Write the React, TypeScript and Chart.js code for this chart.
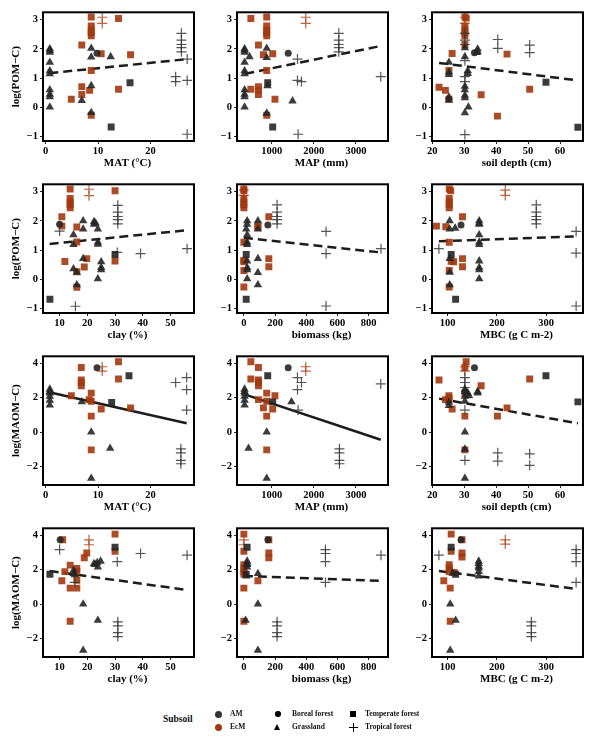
import React, { useEffect, useRef } from "react";
import { Chart, registerables } from "chart.js";

Chart.register(...registerables);

type Pt = [number, number, string];
// group codes: AG = AM grassland, AB = AM boreal forest, AT = AM temperate forest,
// AX = AM tropical forest, ET = EcM temperate forest, EX = EcM tropical forest

// ---------- tick labels ----------
const TICKS_MAT = [0, 10, 20];
const TICKS_MAP = [1000, 2000, 3000];
const TICKS_DEPTH = [20, 30, 40, 50, 60];
const TICKS_CLAY = [10, 20, 30, 40, 50];
const TICKS_BIOMASS = [0, 200, 400, 600, 800];
const TICKS_MBC = [100, 200, 300];
const TICKS_POM = [-1, 0, 1, 2, 3];
const TICKS_MAOM = [-2, 0, 2, 4];

// ---------- axis ranges ----------
const RANGE_MAT = [-0.5, 28.3];
const RANGE_MAP = [177, 3760];
const RANGE_DEPTH = [19.9, 67.2];
const RANGE_CLAY = [4.0, 58.5];
const RANGE_BIOMASS = [-44, 924];
const RANGE_MBC = [68, 375];
const RANGE_POM = [-1.15, 3.25];
const RANGE_MAOM = [-3.09, 4.42];

// ---------- data: log(POM-C) ----------
const matPom: Pt[] = [
  [0.8, 2.0, "AG"], [0.8, 1.95, "AG"], [0.8, 1.88, "AG"], [0.8, 1.54, "AG"], [0.8, 1.25, "AG"],
  [0.8, 1.15, "AG"], [0.8, 0.6, "AG"], [0.8, 0.45, "AG"], [0.8, 0.36, "AG"], [0.8, 0.01, "AG"],
  [6.9, 0.23, "AG"], [8.7, 2.02, "AG"], [8.7, 1.72, "AG"], [8.7, 0.74, "AG"], [8.7, -0.18, "AG"],
  [12.4, 1.73, "AG"],
  [9.8, 1.85, "AB"],
  [16.1, 0.84, "AT"], [12.5, -0.67, "AT"],
  [25.9, 2.53, "AX"], [25.9, 2.3, "AX"], [25.9, 2.15, "AX"], [25.9, 2.04, "AX"], [25.9, 1.9, "AX"],
  [27.0, 1.65, "AX"], [24.8, 1.05, "AX"], [24.8, 0.88, "AX"], [27.0, 0.92, "AX"], [27.0, -0.92, "AX"],
  [8.7, 3.09, "ET"], [8.7, 2.78, "ET"], [8.7, 2.65, "ET"], [8.7, 2.55, "ET"], [8.7, 2.45, "ET"],
  [6.9, 2.13, "ET"], [10.6, 1.83, "ET"], [16.2, 1.8, "ET"], [13.9, 3.04, "ET"], [8.7, 1.26, "ET"],
  [6.9, 0.71, "ET"], [6.9, 0.44, "ET"], [4.9, 0.28, "ET"], [8.4, 0.58, "ET"], [13.9, 0.62, "ET"],
  [8.7, -0.27, "ET"],
  [10.8, 3.08, "EX"], [10.8, 2.87, "EX"],
];
const trendMatPom = [[0.7, 1.17], [27.0, 1.65]];

const mapPom: Pt[] = [
  [357, 2.0, "AG"], [357, 1.95, "AG"], [357, 1.88, "AG"], [357, 1.54, "AG"], [357, 1.25, "AG"],
  [357, 1.15, "AG"], [357, 0.6, "AG"], [357, 0.45, "AG"], [357, 0.36, "AG"], [357, 0.01, "AG"],
  [474, 1.73, "AG"], [882, 2.02, "AG"], [882, 1.7, "AG"], [900, 0.74, "AG"], [882, -0.2, "AG"],
  [1494, 0.22, "AG"],
  [1392, 1.85, "AB"],
  [906, 0.84, "AT"], [1024, -0.67, "AT"],
  [2592, 2.53, "AX"], [2592, 2.3, "AX"], [2592, 2.15, "AX"], [2592, 2.04, "AX"], [2592, 1.9, "AX"],
  [1612, 1.65, "AX"], [1612, 0.92, "AX"], [1706, 0.88, "AX"], [3588, 1.05, "AX"], [1627, -0.92, "AX"],
  [506, 3.04, "ET"], [882, 3.09, "ET"], [882, 2.78, "ET"], [882, 2.65, "ET"], [882, 2.55, "ET"],
  [882, 2.45, "ET"], [686, 2.13, "ET"], [804, 1.8, "ET"], [1024, 1.83, "ET"], [882, 1.26, "ET"],
  [506, 0.62, "ET"], [686, 0.71, "ET"], [686, 0.44, "ET"], [686, 0.58, "ET"], [1078, 0.28, "ET"],
  [882, -0.27, "ET"],
  [1808, 3.08, "EX"], [1808, 2.87, "EX"],
];
const trendMapPom = [[373, 1.15], [3588, 2.1]];

const depthPom: Pt[] = [
  [25.2, 1.54, "AG"], [25.2, 1.2, "AG"], [25.2, 1.12, "AG"], [25.2, 0.35, "AG"], [25.2, 0.25, "AG"],
  [30.2, 2.04, "AG"], [30.2, 1.73, "AG"], [30.2, 0.72, "AG"], [30.2, 0.6, "AG"], [30.2, 0.41, "AG"],
  [30.2, 0.33, "AG"], [31.3, 0.01, "AG"], [30.2, -0.19, "AG"], [31.1, 1.25, "AG"], [31.1, 1.16, "AG"],
  [34.2, 1.99, "AG"], [34.2, 1.9, "AG"], [33.9, 1.87, "AG"],
  [33.2, 1.87, "AB"],
  [55.6, 0.86, "AT"], [65.6, -0.68, "AT"],
  [30.2, 2.53, "AX"], [30.2, 2.3, "AX"], [30.2, 2.15, "AX"], [40.5, 2.32, "AX"], [40.5, 2.02, "AX"],
  [50.5, 2.13, "AX"], [50.5, 1.87, "AX"], [30.2, 1.6, "AX"], [30.2, 1.05, "AX"], [30.2, 0.88, "AX"],
  [30.2, -0.93, "AX"],
  [30.2, 3.09, "ET"], [30.6, 3.05, "ET"], [30.2, 2.78, "ET"], [30.2, 2.65, "ET"], [30.2, 2.55, "ET"],
  [30.2, 2.45, "ET"], [30.2, 2.15, "ET"], [26.2, 1.84, "ET"], [43.4, 1.82, "ET"], [25.2, 1.26, "ET"],
  [22.1, 0.69, "ET"], [24.1, 0.58, "ET"], [25.2, 0.28, "ET"], [35.3, 0.43, "ET"], [50.5, 0.62, "ET"],
  [40.4, -0.3, "ET"],
  [30.2, 3.08, "EX"], [30.2, 2.87, "EX"],
];
const trendDepthPom = [[22.1, 1.52], [65.6, 0.92]];

const clayPom: Pt[] = [
  [18.5, 2.0, "AG"], [18.5, 1.72, "AG"], [22.4, 1.97, "AG"], [22.4, 1.88, "AG"], [23.0, 1.92, "AG"],
  [23.8, 1.72, "AG"], [23.8, 1.27, "AG"], [23.8, 1.2, "AG"], [15.0, 1.52, "AG"], [15.0, 1.19, "AG"],
  [15.0, 0.36, "AG"], [18.5, 0.71, "AG"], [16.2, 0.24, "AG"], [16.2, -0.19, "AG"], [23.8, 0.02, "AG"],
  [25.0, 0.6, "AG"], [25.0, 0.4, "AG"], [25.0, 0.33, "AG"],
  [10.0, 1.88, "AB"],
  [6.5, -0.68, "AT"], [30.0, 0.85, "AT"],
  [31.0, 2.53, "AX"], [31.0, 2.3, "AX"], [31.0, 2.15, "AX"], [31.0, 2.04, "AX"], [31.0, 1.9, "AX"],
  [10.0, 1.65, "AX"], [30.8, 0.92, "AX"], [39.2, 0.88, "AX"], [56.0, 1.05, "AX"], [15.7, -0.92, "AX"],
  [13.8, 3.09, "ET"], [13.8, 2.77, "ET"], [13.8, 2.65, "ET"], [13.8, 2.55, "ET"], [13.8, 2.45, "ET"],
  [10.8, 2.14, "ET"], [10.8, 1.82, "ET"], [16.2, 1.79, "ET"], [16.2, 1.28, "ET"], [11.9, 0.61, "ET"],
  [19.8, 0.71, "ET"], [18.9, 0.42, "ET"], [30.0, 3.03, "ET"], [30.0, 0.63, "ET"], [16.2, 0.26, "ET"],
  [16.2, -0.27, "ET"],
  [20.6, 3.08, "EX"], [20.6, 2.86, "EX"],
];
const trendClayPom = [[6.4, 1.21], [56.0, 1.68]];

const biomassPom: Pt[] = [
  [21, 2.0, "AG"], [21, 1.88, "AG"], [15, 1.72, "AG"], [21, 1.52, "AG"], [21, 1.27, "AG"],
  [21, 1.19, "AG"], [21, 0.63, "AG"], [21, 0.4, "AG"], [21, 0.33, "AG"], [21, 0.02, "AG"],
  [90, 2.0, "AG"], [90, 1.72, "AG"], [90, 0.71, "AG"], [90, 0.23, "AG"], [90, -0.19, "AG"],
  [154, 1.86, "AB"],
  [15, 0.85, "AT"], [15, -0.68, "AT"],
  [213, 2.55, "AX"], [213, 2.3, "AX"], [213, 2.15, "AX"], [213, 2.04, "AX"], [213, 1.9, "AX"],
  [527, 1.64, "AX"], [527, 0.88, "AX"], [879, 1.05, "AX"], [527, -0.91, "AX"],
  [0, 3.09, "ET"], [0, 3.03, "ET"], [0, 2.77, "ET"], [0, 2.65, "ET"], [0, 2.55, "ET"],
  [0, 2.45, "ET"], [0, 1.27, "ET"], [0, 0.65, "ET"], [0, 0.6, "ET"], [0, 0.3, "ET"],
  [0, -0.26, "ET"], [160, 2.14, "ET"], [90, 1.83, "ET"], [90, 1.78, "ET"], [160, 0.71, "ET"],
  [160, 0.43, "ET"],
  [0, 3.05, "EX"], [0, 2.87, "EX"],
];
const trendBiomassPom = [[0, 1.42], [880, 0.92]];

const mbcPom: Pt[] = [
  [104, 2.0, "AG"], [115, 1.75, "AG"], [104, 1.72, "AG"], [104, 0.71, "AG"], [104, 0.24, "AG"],
  [104, -0.19, "AG"], [164, 2.0, "AG"], [164, 1.92, "AG"], [164, 1.88, "AG"], [164, 1.52, "AG"],
  [164, 1.27, "AG"], [164, 1.19, "AG"], [164, 0.63, "AG"], [164, 0.4, "AG"], [164, 0.33, "AG"],
  [164, 0.02, "AG"],
  [127, 1.86, "AB"],
  [107, 0.85, "AT"], [116, -0.68, "AT"],
  [280, 2.55, "AX"], [280, 2.3, "AX"], [280, 2.15, "AX"], [280, 2.04, "AX"], [280, 1.9, "AX"],
  [361, 1.64, "AX"], [361, 0.9, "AX"], [82, 1.05, "AX"], [361, -0.91, "AX"],
  [103, 3.09, "ET"], [106, 3.03, "ET"], [103, 2.77, "ET"], [103, 2.65, "ET"], [103, 2.55, "ET"],
  [103, 2.45, "ET"], [130, 2.14, "ET"], [77, 1.82, "ET"], [96, 1.8, "ET"], [103, 1.27, "ET"],
  [130, 0.71, "ET"], [130, 0.43, "ET"], [107, 0.62, "ET"], [112, 0.6, "ET"], [103, 0.3, "ET"],
  [103, -0.26, "ET"],
  [217, 3.05, "EX"], [217, 2.87, "EX"],
];
const trendMbcPom = [[82, 1.3], [361, 1.47]];

// ---------- data: log(MAOM-C) ----------
const matMaom: Pt[] = [
  [0.8, 2.5, "AG"], [0.8, 2.37, "AG"], [0.8, 2.28, "AG"], [0.8, 2.08, "AG"], [0.8, 1.85, "AG"],
  [0.8, 1.57, "AG"], [6.9, 1.76, "AG"], [8.7, 0.0, "AG"], [12.3, -0.95, "AG"], [8.7, -2.7, "AG"],
  [9.8, 3.75, "AB"],
  [15.9, 3.29, "AT"], [12.6, 1.72, "AT"],
  [24.8, 2.89, "AX"], [26.9, 3.18, "AX"], [26.9, 2.47, "AX"], [26.9, 1.28, "AX"], [25.8, -0.98, "AX"],
  [25.8, -1.21, "AX"], [25.8, -1.65, "AX"], [25.8, -1.85, "AX"],
  [6.8, 3.77, "ET"], [6.8, 3.04, "ET"], [6.8, 2.89, "ET"], [6.8, 2.7, "ET"], [4.9, 2.12, "ET"],
  [8.7, 2.27, "ET"], [8.3, 1.89, "ET"], [8.7, 1.8, "ET"], [8.7, 0.93, "ET"], [8.7, -1.04, "ET"],
  [10.6, 1.35, "ET"], [13.9, 4.1, "ET"], [13.9, 3.1, "ET"], [16.2, 1.41, "ET"],
  [10.8, 3.81, "EX"], [10.8, 3.56, "EX"],
];
const trendMatMaom = [[0.9, 2.31], [26.9, 0.51]];

const mapMaom: Pt[] = [
  [357, 2.5, "AG"], [357, 2.37, "AG"], [357, 2.28, "AG"], [357, 2.08, "AG"], [357, 1.85, "AG"],
  [357, 1.57, "AG"], [451, -0.95, "AG"], [882, 0.0, "AG"], [882, -2.7, "AG"], [1470, 1.76, "AG"],
  [1392, 3.75, "AB"],
  [906, 3.29, "AT"], [1024, 1.76, "AT"],
  [1612, 3.18, "AX"], [1706, 2.89, "AX"], [1612, 2.47, "AX"], [1627, 1.28, "AX"], [2608, -0.98, "AX"],
  [2608, -1.21, "AX"], [2608, -1.65, "AX"], [2608, -1.85, "AX"], [3588, 2.81, "AX"],
  [506, 4.1, "ET"], [506, 3.1, "ET"], [686, 3.77, "ET"], [686, 3.04, "ET"], [686, 2.89, "ET"],
  [686, 2.7, "ET"], [686, 1.89, "ET"], [882, 2.27, "ET"], [882, 1.8, "ET"], [882, 0.93, "ET"],
  [882, -1.04, "ET"], [804, 1.41, "ET"], [1024, 1.35, "ET"], [1078, 2.12, "ET"],
  [1808, 3.81, "EX"], [1808, 3.56, "EX"],
];
const trendMapMaom = [[373, 2.18], [3588, -0.45]];

const depthMaom: Pt[] = [
  [25.2, 1.74, "AG"], [25.2, 1.55, "AG"], [30.2, 2.5, "AG"], [30.2, 2.37, "AG"], [30.2, 2.08, "AG"],
  [30.2, 1.8, "AG"], [30.2, 0.0, "AG"], [30.2, -1.0, "AG"], [30.2, -2.7, "AG"], [31.1, 2.28, "AG"],
  [31.5, 2.12, "AG"], [34.2, 2.37, "AG"], [34.2, 2.28, "AG"],
  [33.2, 3.75, "AB"],
  [55.6, 3.29, "AT"], [65.6, 1.76, "AT"],
  [30.2, 3.18, "AX"], [30.2, 2.89, "AX"], [30.2, 2.6, "AX"], [30.2, 1.28, "AX"], [30.2, -1.65, "AX"],
  [40.5, -1.21, "AX"], [40.5, -1.7, "AX"], [50.5, -1.27, "AX"], [50.5, -1.94, "AX"],
  [22.1, 3.04, "ET"], [25.2, 2.12, "ET"], [25.2, 1.99, "ET"], [25.2, 1.89, "ET"], [24.1, 1.89, "ET"],
  [26.2, 1.35, "ET"], [30.2, 3.77, "ET"], [30.6, 4.1, "ET"], [30.2, 2.27, "ET"], [30.2, 0.93, "ET"],
  [30.2, -1.04, "ET"], [35.3, 2.7, "ET"], [50.5, 3.1, "ET"], [40.4, 0.93, "ET"], [43.4, 1.41, "ET"],
  [30.2, 3.81, "EX"], [30.2, 3.56, "EX"],
];
const trendDepthMaom = [[22.1, 1.95], [65.6, 0.51]];

const clayMaom: Pt[] = [
  [18.5, 0.0, "AG"], [18.5, -2.7, "AG"], [23.8, -0.95, "AG"], [22.4, 2.35, "AG"], [23.6, 2.41, "AG"],
  [24.8, 2.5, "AG"], [23.8, 2.16, "AG"], [22.8, 2.3, "AG"], [15.0, 1.97, "AG"], [15.0, 1.78, "AG"],
  [15.5, 1.7, "AG"],
  [10.2, 3.75, "AB"],
  [6.5, 1.74, "AT"], [30.0, 3.31, "AT"],
  [10.0, 3.18, "AX"], [39.2, 2.95, "AX"], [30.8, 2.47, "AX"], [56.0, 2.85, "AX"], [15.5, 1.26, "AX"],
  [31.0, -1.04, "AX"], [31.0, -1.27, "AX"], [31.0, -1.67, "AX"], [31.0, -1.9, "AX"],
  [11.1, 3.75, "ET"], [30.0, 4.08, "ET"], [30.0, 3.08, "ET"], [19.8, 2.98, "ET"], [18.9, 2.7, "ET"],
  [13.8, 2.27, "ET"], [16.2, 2.08, "ET"], [16.2, 1.9, "ET"], [11.9, 1.89, "ET"], [10.8, 1.36, "ET"],
  [16.2, 1.39, "ET"], [13.8, 0.93, "ET"], [16.2, 0.93, "ET"], [13.8, -1.0, "ET"],
  [20.6, 3.75, "EX"], [20.6, 3.46, "EX"],
];
const trendClayMaom = [[6.4, 1.93], [56.0, 0.82]];

const biomassMaom: Pt[] = [
  [21, 2.5, "AG"], [21, 2.37, "AG"], [21, 2.3, "AG"], [21, 2.16, "AG"], [15, 1.64, "AG"],
  [11, -0.95, "AG"], [90, 1.78, "AG"], [90, 0.0, "AG"], [90, -2.7, "AG"],
  [154, 3.75, "AB"],
  [21, 3.31, "AT"], [15, 1.74, "AT"],
  [523, 3.18, "AX"], [523, 2.95, "AX"], [523, 2.47, "AX"], [523, 1.26, "AX"], [879, 2.85, "AX"],
  [213, -1.04, "AX"], [213, -1.27, "AX"], [213, -1.67, "AX"], [213, -1.9, "AX"],
  [0, 4.08, "ET"], [0, 3.08, "ET"], [0, 2.3, "ET"], [0, 2.1, "ET"], [0, 1.9, "ET"],
  [0, 1.75, "ET"], [0, 0.93, "ET"], [0, -1.0, "ET"], [160, 3.75, "ET"], [160, 2.98, "ET"],
  [160, 2.7, "ET"], [90, 1.36, "ET"],
  [0, 3.75, "EX"], [0, 3.46, "EX"],
];
const trendBiomassMaom = [[0, 1.64], [879, 1.35]];

const mbcMaom: Pt[] = [
  [105, 0.0, "AG"], [105, -2.7, "AG"], [116, -0.95, "AG"], [163, 2.5, "AG"], [163, 2.37, "AG"],
  [163, 2.2, "AG"], [163, 2.1, "AG"], [163, 1.9, "AG"], [163, 1.64, "AG"], [110, 1.8, "AG"],
  [127, 3.75, "AB"],
  [107, 3.31, "AT"], [116, 1.74, "AT"],
  [82, 2.85, "AX"], [361, 3.18, "AX"], [361, 2.95, "AX"], [361, 2.47, "AX"], [361, 1.26, "AX"],
  [270, -1.04, "AX"], [270, -1.27, "AX"], [270, -1.67, "AX"], [270, -1.9, "AX"],
  [107, 4.08, "ET"], [107, 3.08, "ET"], [103, 2.3, "ET"], [103, 2.1, "ET"], [103, 1.9, "ET"],
  [92, 1.36, "ET"], [105, 0.93, "ET"], [105, -1.0, "ET"], [129, 3.75, "ET"], [129, 2.98, "ET"],
  [129, 2.75, "ET"], [113, 1.85, "ET"],
  [217, 3.75, "EX"], [217, 3.5, "EX"],
];
const trendMbcMaom = [[82, 1.93], [361, 0.88]];

// ---------- styling ----------
const FONT = '"Liberation Serif", "Times New Roman", serif';
const AM_FILL = "rgba(38,38,38,0.9)";
const ECM_FILL = "rgba(163,55,13,0.9)";
const AM_LINE = "rgba(55,55,55,0.85)";
const ECM_LINE = "rgba(175,70,30,0.85)";

const GROUPS = [
  { code: "AG", shape: "triangle", r: 4.9, fill: AM_FILL, line: AM_FILL },
  { code: "AB", shape: "circle", r: 3.5, fill: AM_FILL, line: AM_FILL },
  { code: "AT", shape: "rect", r: 4.9, fill: AM_FILL, line: AM_FILL },
  { code: "AX", shape: "cross", r: 5, fill: AM_LINE, line: AM_LINE },
  { code: "ET", shape: "rect", r: 4.9, fill: ECM_FILL, line: ECM_FILL },
  { code: "EX", shape: "cross", r: 5, fill: ECM_LINE, line: ECM_LINE },
];

type PanelCfg = {
  pts: Pt[];
  trend: number[][];
  dashed: boolean;
  xr: number[];
  yr: number[];
  xt: number[];
  yt: number[];
  xTitle: string;
  yTitle: string | null;
};

const PANELS: PanelCfg[] = [
  { pts: matPom, trend: trendMatPom, dashed: true, xr: RANGE_MAT, yr: RANGE_POM, xt: TICKS_MAT, yt: TICKS_POM, xTitle: "MAT (°C)", yTitle: "log(POM\u2212C)" },
  { pts: mapPom, trend: trendMapPom, dashed: true, xr: RANGE_MAP, yr: RANGE_POM, xt: TICKS_MAP, yt: TICKS_POM, xTitle: "MAP (mm)", yTitle: null },
  { pts: depthPom, trend: trendDepthPom, dashed: true, xr: RANGE_DEPTH, yr: RANGE_POM, xt: TICKS_DEPTH, yt: TICKS_POM, xTitle: "soil depth (cm)", yTitle: null },
  { pts: clayPom, trend: trendClayPom, dashed: true, xr: RANGE_CLAY, yr: RANGE_POM, xt: TICKS_CLAY, yt: TICKS_POM, xTitle: "clay (%)", yTitle: "log(POM\u2212C)" },
  { pts: biomassPom, trend: trendBiomassPom, dashed: true, xr: RANGE_BIOMASS, yr: RANGE_POM, xt: TICKS_BIOMASS, yt: TICKS_POM, xTitle: "biomass (kg)", yTitle: null },
  { pts: mbcPom, trend: trendMbcPom, dashed: true, xr: RANGE_MBC, yr: RANGE_POM, xt: TICKS_MBC, yt: TICKS_POM, xTitle: "MBC (g C m-2)", yTitle: null },
  { pts: matMaom, trend: trendMatMaom, dashed: false, xr: RANGE_MAT, yr: RANGE_MAOM, xt: TICKS_MAT, yt: TICKS_MAOM, xTitle: "MAT (°C)", yTitle: "log(MAOM\u2212C)" },
  { pts: mapMaom, trend: trendMapMaom, dashed: false, xr: RANGE_MAP, yr: RANGE_MAOM, xt: TICKS_MAP, yt: TICKS_MAOM, xTitle: "MAP (mm)", yTitle: null },
  { pts: depthMaom, trend: trendDepthMaom, dashed: true, xr: RANGE_DEPTH, yr: RANGE_MAOM, xt: TICKS_DEPTH, yt: TICKS_MAOM, xTitle: "soil depth (cm)", yTitle: null },
  { pts: clayMaom, trend: trendClayMaom, dashed: true, xr: RANGE_CLAY, yr: RANGE_MAOM, xt: TICKS_CLAY, yt: TICKS_MAOM, xTitle: "clay (%)", yTitle: "log(MAOM\u2212C)" },
  { pts: biomassMaom, trend: trendBiomassMaom, dashed: true, xr: RANGE_BIOMASS, yr: RANGE_MAOM, xt: TICKS_BIOMASS, yt: TICKS_MAOM, xTitle: "biomass (kg)", yTitle: null },
  { pts: mbcMaom, trend: trendMbcMaom, dashed: true, xr: RANGE_MBC, yr: RANGE_MAOM, xt: TICKS_MBC, yt: TICKS_MAOM, xTitle: "MBC (g C m-2)", yTitle: null },
];

// ---------- layout ----------
const COL_LEFT = [43, 237, 432];
const ROW_TOP = [10, 182, 354, 526];
const PW = 151;
const PH = 131;
const ML = 43;
const MT = 6;
const MR = 8;
const MB = 32;

const fmt = (v: any) => (Number(v) < 0 ? "\u2212" + Math.abs(Number(v)) : String(v));

const framePlugin = {
  id: "frame",
  afterDraw(chart: any) {
    const { ctx, chartArea } = chart;
    const { left, top, right, bottom } = chartArea;
    ctx.save();
    ctx.strokeStyle = "#000";
    ctx.lineWidth = 2;
    ctx.strokeRect(left, top, right - left, bottom - top);
    ctx.restore();
  },
};

const xTitlePlugin = {
  id: "xTitle",
  afterDraw(chart: any, _args: any, opts: any) {
    const { ctx, chartArea } = chart;
    ctx.save();
    ctx.font = `bold 11px ${FONT}`;
    ctx.fillStyle = "#000";
    ctx.textAlign = "center";
    ctx.textBaseline = "middle";
    ctx.fillText(opts.text, (chartArea.left + chartArea.right) / 2 + opts.shift, chartArea.bottom + opts.gap);
    ctx.restore();
  },
};

function Panel({ cfg, left, top }: { cfg: PanelCfg; left: number; top: number }) {
  const ref = useRef<HTMLCanvasElement | null>(null);
  const W = ML + PW + MR;
  const H = MT + PH + MB;
  useEffect(() => {
    if (!ref.current) return;
    const datasets: any[] = GROUPS.map((g) => ({
      data: cfg.pts.filter((p) => p[2] === g.code).map((p) => ({ x: p[0], y: p[1] })),
      pointStyle: g.shape,
      pointRadius: g.r,
      pointHoverRadius: g.r,
      backgroundColor: g.fill,
      borderColor: g.line,
      borderWidth: g.shape === "cross" ? 1.2 : 0,
      pointBorderWidth: g.shape === "cross" ? 1.2 : 0,
    }));
    datasets.push({
      data: cfg.trend.map((p) => ({ x: p[0], y: p[1] })),
      showLine: true,
      pointRadius: 0,
      pointHoverRadius: 0,
      borderColor: "#1c1c1c",
      backgroundColor: "transparent",
      borderWidth: 2.5,
      borderDash: cfg.dashed ? [9, 5] : [],
    });
    const tickFont = { family: FONT, size: 10.5, weight: "bold" as const };
    const chart = new Chart(ref.current, {
      type: "scatter",
      data: { datasets },
      options: {
        animation: false,
        responsive: false,
        maintainAspectRatio: false,
        devicePixelRatio: 1,
        events: [],
        layout: { padding: { top: MT, right: MR, left: 0, bottom: 0 } },
        plugins: {
          legend: { display: false },
          tooltip: { enabled: false },
          xTitle: { text: cfg.xTitle, shift: 9, gap: 22 },
        } as any,
        scales: {
          x: {
            type: "linear",
            min: cfg.xr[0],
            max: cfg.xr[1],
            afterFit: (s: any) => {
              s.height = MB;
            },
            afterBuildTicks: (s: any) => {
              s.ticks = cfg.xt.map((v) => ({ value: v }));
            },
            ticks: { color: "#000", font: tickFont, padding: 1, maxRotation: 0, autoSkip: false, callback: fmt },
            grid: { drawOnChartArea: false, drawTicks: true, tickLength: 3, color: "#222", lineWidth: 1 },
            border: { display: false },
          },
          y: {
            type: "linear",
            min: cfg.yr[0],
            max: cfg.yr[1],
            afterFit: (s: any) => {
              s.width = ML;
            },
            afterBuildTicks: (s: any) => {
              s.ticks = cfg.yt.map((v) => ({ value: v }));
            },
            ticks: { color: "#000", font: tickFont, padding: 2, autoSkip: false, callback: fmt },
            grid: { drawOnChartArea: false, drawTicks: true, tickLength: 3, color: "#222", lineWidth: 1 },
            border: { display: false },
            title: {
              display: !!cfg.yTitle,
              text: cfg.yTitle || "",
              color: "#000",
              font: { family: FONT, size: 11, weight: "bold" },
              padding: { top: 10, bottom: 0 },
            },
          },
        },
      } as any,
      plugins: [framePlugin, xTitlePlugin],
    });
    return () => chart.destroy();
  }, [cfg]);
  return (
    <canvas
      ref={ref}
      width={W}
      height={H}
      style={{ position: "absolute", left, top, width: W, height: H }}
    />
  );
}

function LegendText({ x, y, size, children }: { x: number; y: number; size: number; children: React.ReactNode }) {
  return (
    <div
      style={{
        position: "absolute",
        left: x,
        top: y,
        transform: "translateY(-50%)",
        fontFamily: FONT,
        fontWeight: "bold",
        fontSize: size,
        lineHeight: 1,
        whiteSpace: "nowrap",
        color: "#111",
      }}
    >
      {children}
    </div>
  );
}

function Legend() {
  const abs = { position: "absolute" as const };
  return (
    <>
      <LegendText x={163} y={720} size={9.5}>Subsoil</LegendText>
      <div style={{ ...abs, left: 218 - 3.5, top: 714 - 3.5, width: 7, height: 7, borderRadius: "50%", background: "#333" }} />
      <LegendText x={230} y={714} size={7.5}>AM</LegendText>
      <div style={{ ...abs, left: 218 - 3.5, top: 727 - 3.5, width: 7, height: 7, borderRadius: "50%", background: "#A3370D" }} />
      <LegendText x={230} y={727} size={7.5}>EcM</LegendText>

      <div style={{ ...abs, left: 278 - 2.8, top: 714 - 2.8, width: 5.6, height: 5.6, borderRadius: "50%", background: "#000" }} />
      <LegendText x={292} y={714} size={7.5}>Boreal forest</LegendText>
      <div
        style={{
          ...abs,
          left: 278 - 3.6,
          top: 727 - 3.4,
          width: 0,
          height: 0,
          borderLeft: "3.6px solid transparent",
          borderRight: "3.6px solid transparent",
          borderBottom: "6.4px solid #000",
        }}
      />
      <LegendText x={292} y={727} size={7.5}>Grassland</LegendText>

      <div style={{ ...abs, left: 353 - 2.8, top: 714 - 2.8, width: 5.6, height: 5.6, background: "#000" }} />
      <LegendText x={365} y={714} size={7.5}>Temperate forest</LegendText>
      <div style={{ ...abs, left: 353 - 4.5, top: 727.5 - 0.5, width: 9, height: 1, background: "#000" }} />
      <div style={{ ...abs, left: 353 - 0.5, top: 727.5 - 4.5, width: 1, height: 9, background: "#000" }} />
      <LegendText x={365} y={727} size={7.5}>Tropical forest</LegendText>
    </>
  );
}

export default function App() {
  return (
    <div style={{ position: "absolute", left: 0, top: 0, width: 596, height: 736, background: "#fff", overflow: "hidden" }}>
      {PANELS.map((cfg, i) => {
        const r = Math.floor(i / 3);
        const c = i % 3;
        return <Panel key={i} cfg={cfg} left={COL_LEFT[c] - ML} top={ROW_TOP[r] - MT} />;
      })}
      <Legend />
    </div>
  );
}
